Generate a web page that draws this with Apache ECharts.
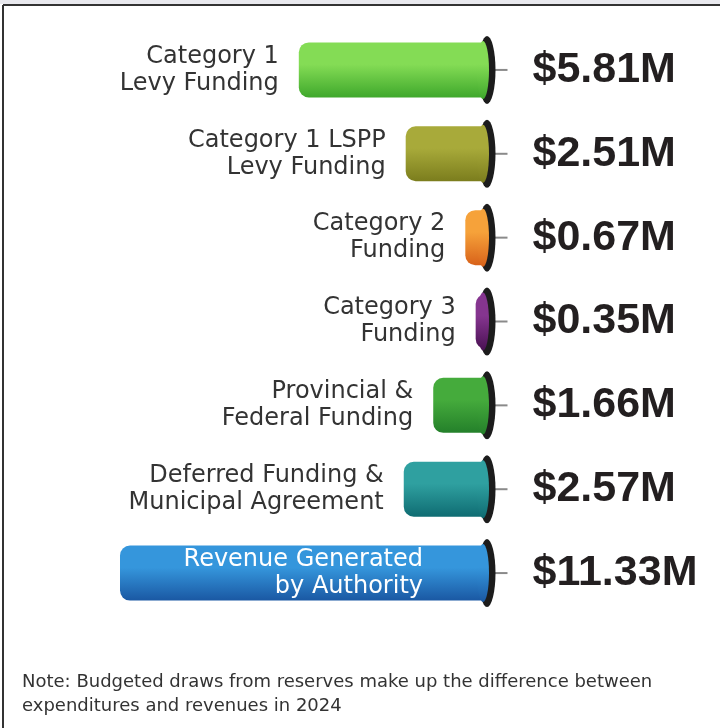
<!DOCTYPE html>
<html>
<head>
<meta charset="utf-8">
<script src="https://cdn.jsdelivr.net/npm/echarts@6/dist/echarts.min.js"></script>
<style>
html,body{margin:0;padding:0;background:#fff;}
#chart{width:720px;height:728px;}
</style>
</head>
<body>
<div id="chart"></div>
<script>
const categories = [
  'Category 1\nLevy Funding',
  'Category 1 LSPP\nLevy Funding',
  'Category 2\nFunding',
  'Category 3\nFunding',
  'Provincial &\nFederal Funding',
  'Deferred Funding &\nMunicipal Agreement',
  'Revenue Generated\nby Authority'
];
const values = [5.81, 2.51, 0.67, 0.35, 1.66, 2.57, 11.33];
const valueLabels = ['$5.81M', '$2.51M', '$0.67M', '$0.35M', '$1.66M', '$2.57M', '$11.33M'];
const colorsTop = ['#84dc55', '#a8aa3a', '#f6a23a', '#85358f', '#45ab3c', '#2fa0a0', '#3596dc'];
const colorsBottom = ['#3fa82c', '#7b7d1d', '#d8621a', '#4a1153', '#24802a', '#0f6c72', '#1a58a3'];
const noteText = 'Note: Budgeted draws from reserves make up the difference between\nexpenditures and revenues in 2024';

const FONT = 'DejaVu Sans';
const lastIdx = values.length - 1;

function grad(i) {
  return new echarts.graphic.LinearGradient(0, 0, 0, 1, [
    {offset: 0, color: colorsTop[i]},
    {offset: 0.4, color: colorsTop[i]},
    {offset: 1, color: colorsBottom[i]}
  ]);
}

const barData = values.map((v, i) => {
  const inside = i === lastIdx;
  return {
    value: v,
    itemStyle: {color: grad(i)},
    label: {
      show: true,
      position: inside ? 'insideRight' : 'left',
      distance: inside ? 64 : 20,
      align: 'right',
      formatter: categories[i],
      fontSize: 24,
      lineHeight: 27,
      color: inside ? '#fff' : '#333',
      fontFamily: FONT
    }
  };
});

const ringData = values.map((v, i) => ({value: [0, i]}));
const capData = values.map((v, i) => ({
  value: [0, i],
  itemStyle: {color: grad(i), opacity: 1}
}));
const tickData = values.map((v, i) => ({
  value: [0, i],
  label: {
    show: true,
    position: 'right',
    distance: 25,
    formatter: valueLabels[i],
    fontSize: 43,
    fontWeight: 'bold',
    color: '#231f20',
    fontFamily: 'Liberation Sans'
  }
}));

const chart = echarts.init(document.getElementById('chart'), null, {renderer: 'canvas'});
chart.setOption({
  backgroundColor: '#fff',
  animation: false,
  grid: {left: 120, right: 233, top: 28, bottom: 113},
  xAxis: {
    type: 'value', min: 0, max: 11.33, inverse: true,
    show: false
  },
  yAxis: {
    type: 'category', data: categories, inverse: true,
    show: false
  },
  series: [
    {
      type: 'bar',
      data: barData,
      barWidth: 55,
      itemStyle: {borderRadius: [10, 0, 0, 10]},
      z: 2
    },
    {
      type: 'scatter',
      data: ringData,
      symbol: 'circle',
      symbolSize: [17, 68],
      symbolOffset: [0, 0],
      itemStyle: {color: '#1c1c1c', opacity: 1},
      z: 3
    },
    {
      type: 'scatter',
      data: capData,
      symbol: 'circle',
      symbolSize: [12, 58],
      symbolOffset: [-4, 0],
      z: 4
    },
    {
      type: 'scatter',
      data: tickData,
      symbol: 'rect',
      symbolSize: [13, 2],
      symbolOffset: [14, 0],
      itemStyle: {color: '#8a8a8a', opacity: 1},
      z: 1
    }
  ],
  graphic: [
    {type: 'rect', shape: {x: 0, y: 0, width: 720, height: 4}, style: {fill: '#e9e9ee'}, silent: true},
    {type: 'line', shape: {x1: 3, y1: 5, x2: 720, y2: 5}, style: {stroke: '#333', lineWidth: 2}, silent: true},
    {type: 'line', shape: {x1: 3, y1: 5, x2: 3, y2: 728}, style: {stroke: '#333', lineWidth: 2}, silent: true},
    {
      type: 'text', left: 22, top: 670,
      style: {text: noteText, fontSize: 18, lineHeight: 24, fill: '#333', fontFamily: FONT}
    }
  ]
});
</script>
</body>
</html>
